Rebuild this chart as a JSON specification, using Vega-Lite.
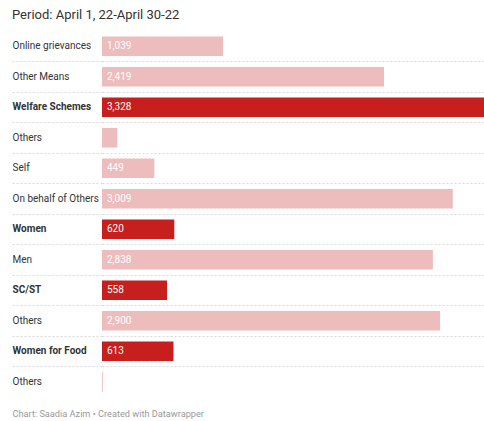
{
  "$schema": "https://vega.github.io/schema/vega-lite/v6.json",
  "width": 388,
  "height": 366,
  "autosize": {"type": "none"},
  "padding": {"left": 102, "top": 31, "right": 0, "bottom": 24},
  "background": "white",
  "config": {"view": {"stroke": null}},
  "title": {
    "text": "Period: April 1, 22-April 30-22",
    "anchor": "start",
    "frame": "group",
    "dx": -90,
    "offset": 9,
    "font": "Roboto",
    "fontSize": 13,
    "fontWeight": "normal",
    "color": "#333333"
  },
  "data": {
    "values": [
      {"id": "Online grievances#1", "label": "Online grievances", "value": 1039, "highlight": "no"},
      {"id": "Other Means#2", "label": "Other Means", "value": 2419, "highlight": "no"},
      {"id": "Welfare Schemes#3", "label": "Welfare Schemes", "value": 3328, "highlight": "yes"},
      {"id": "Others#4", "label": "Others", "value": 131, "highlight": "no"},
      {"id": "Self#5", "label": "Self", "value": 449, "highlight": "no"},
      {"id": "On behalf of Others#6", "label": "On behalf of Others", "value": 3009, "highlight": "no"},
      {"id": "Women#7", "label": "Women", "value": 620, "highlight": "yes"},
      {"id": "Men#8", "label": "Men", "value": 2838, "highlight": "no"},
      {"id": "SC/ST#9", "label": "SC/ST", "value": 558, "highlight": "yes"},
      {"id": "Others#10", "label": "Others", "value": 2900, "highlight": "no"},
      {"id": "Women for Food#11", "label": "Women for Food", "value": 613, "highlight": "yes"},
      {"id": "Others#12", "label": "Others", "value": 7, "highlight": "no"}
    ]
  },
  "encoding": {
    "y": {
      "field": "id",
      "type": "nominal",
      "sort": null,
      "scale": {"type": "band", "paddingInner": 0, "paddingOuter": 0},
      "axis": {
        "title": null,
        "orient": "left",
        "domain": false,
        "ticks": true,
        "tickSize": 90,
        "bandPosition": 0,
        "tickColor": "#d9d9d9",
        "tickDash": [2, 2],
        "tickOpacity": {"condition": {"test": "datum.value == 'Online grievances#1'", "value": 0}, "value": 1},
        "grid": true,
        "gridColor": "#d9d9d9",
        "gridDash": [2, 2],
        "gridOpacity": {"condition": {"test": "datum.value == 'Online grievances#1'", "value": 0}, "value": 1},
        "labelExpr": "split(datum.value, '#')[0]",
        "labelAlign": "left",
        "labelBaseline": "middle",
        "labelPadding": 0,
        "labelFont": "Roboto",
        "labelFontSize": 10,
        "labelColor": "#333333",
        "labelLimit": 200,
        "labelFontWeight": {
          "condition": {"test": "indexof(['Welfare Schemes#3','Women#7','SC/ST#9','Women for Food#11'], datum.value) >= 0", "value": "bold"},
          "value": "normal"
        }
      }
    }
  },
  "layer": [
    {
      "mark": {"type": "bar", "height": {"band": 0.645}},
      "encoding": {
        "x": {
          "field": "value",
          "type": "quantitative",
          "scale": {"domain": [0, 3328], "nice": false},
          "axis": {
            "title": "Chart: Saadia Azim • Created with Datawrapper",
            "labels": false,
            "ticks": false,
            "domain": false,
            "grid": false,
            "titleAnchor": "start",
            "titleAlign": "left",
            "titleX": -90,
            "titleY": 19,
            "titleBaseline": "alphabetic",
            "titleFont": "Roboto",
            "titleFontSize": 9.2,
            "titleFontWeight": "normal",
            "titleColor": "#9a9a9a"
          }
        },
        "color": {
          "field": "highlight",
          "type": "nominal",
          "scale": {"domain": ["no", "yes"], "range": ["#edbcbc", "#c71e1e"]},
          "legend": null
        }
      }
    },
    {
      "transform": [{"filter": "datum.value >= 300"}],
      "mark": {"type": "text", "align": "left", "baseline": "middle", "dx": 5, "font": "Roboto", "fontSize": 10, "color": "white"},
      "encoding": {
        "x": {"datum": 0, "type": "quantitative"},
        "text": {"field": "value", "type": "quantitative", "format": ","}
      }
    }
  ]
}
